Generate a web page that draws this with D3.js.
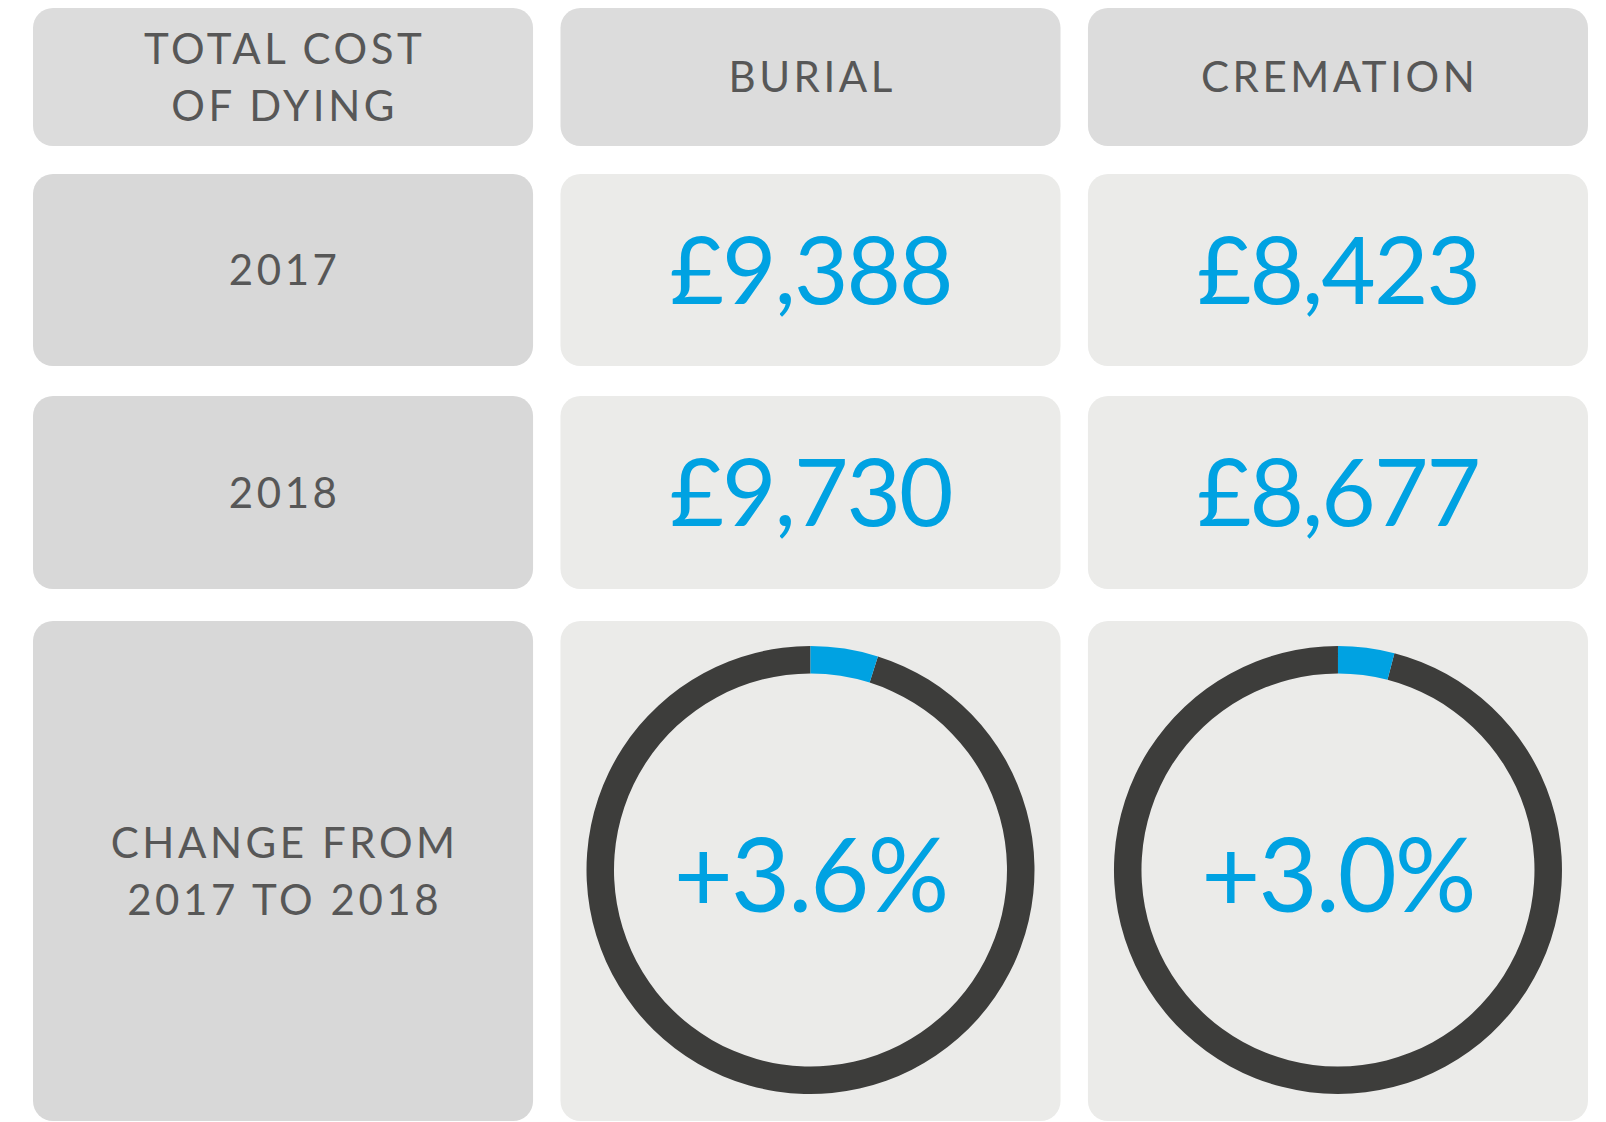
<!DOCTYPE html>
<html>
<head>
<meta charset="utf-8">
<script src="https://cdn.jsdelivr.net/npm/d3@7"></script>
<style>
  body { margin: 0; background: #fff; }
  svg { display: block; }
  text { font-family: Lato, "Open Sans", sans-serif; }
</style>
</head>
<body>
<div id="chart"></div>
<script>
// data
const columns = ['label', 'BURIAL', 'CREMATION'];
const headerLines = ['TOTAL COST', 'OF DYING'];
const years = ['2017', '2018'];
const burialCost = [9388, 9730];
const cremationCost = [8423, 8677];
const changeLines = ['CHANGE FROM', '2017 TO 2018'];
const changePct = [3.6, 3.0];

const width = 1606, height = 1122;
const blue = '#00a2e2', grey = '#575757', ring = '#3d3d3b';

const svg = d3.select('#chart').append('svg')
    .attr('width', width)
    .attr('height', height);

let x = d3.scaleBand()
    .domain(columns)
    .range([33, 1588])
    .paddingInner(0.052);

// rows have different heights so just list them
let rows = [
    { top: 8, h: 138 },
    { top: 174, h: 192 },
    { top: 396, h: 193 },
    { top: 621, h: 500 }
];

let money = d => '£' + d3.format(',')(d);
let pct = d => '+' + d3.format('.1f')(d) + '%';

function box(col, row, fill) {
    svg.append('rect')
        .attr('x', x(col))
        .attr('y', rows[row].top)
        .attr('width', x.bandwidth())
        .attr('height', rows[row].h)
        .attr('rx', 20)
        .attr('fill', fill);
}

function label(col, row, lines, size, gap) {
    let cy = rows[row].top + rows[row].h / 2;
    let t = svg.append('text')
        .attr('text-anchor', 'middle')
        .attr('fill', grey)
        .attr('font-size', size)
        .attr('letter-spacing', '0.085em');
    lines.forEach((l, i) => {
        t.append('tspan')
            .attr('x', x(col) + x.bandwidth() / 2 + size * 0.04)
            .attr('y', cy + (i - (lines.length - 1) / 2) * gap)
            .attr('dy', '0.36em')
            .text(l);
    });
}

function big(col, str, cy, size) {
    svg.append('text')
        .attr('x', x(col) + x.bandwidth() / 2)
        .attr('y', cy)
        .attr('dy', '0.36em')
        .attr('text-anchor', 'middle')
        .attr('fill', blue)
        .attr('font-size', size)
        .attr('letter-spacing', '-2px')
        .text(str);
}

// header row
columns.forEach(c => box(c, 0, '#dcdcdc'));
label('label', 0, headerLines, 42, 57);
label('BURIAL', 0, ['BURIAL'], 42, 57);
label('CREMATION', 0, ['CREMATION'], 42, 57);

// cost rows
years.forEach((yr, i) => {
    let r = i + 1;
    box('label', r, '#d8d8d8');
    box('BURIAL', r, '#ebebe9');
    box('CREMATION', r, '#ebebe9');
    label('label', r, [yr], 42, 57);
    let cy = rows[r].top + rows[r].h / 2;
    big('BURIAL', money(burialCost[i]), cy, 94);
    big('CREMATION', money(cremationCost[i]), cy, 94);
});

// change row with rings
box('label', 3, '#d8d8d8');
box('BURIAL', 3, '#ebebe9');
box('CREMATION', 3, '#ebebe9');
label('label', 3, changeLines, 42, 57);

let angle = d3.scaleLinear().domain([0, 74]).range([0, 2 * Math.PI]);
let arc = d3.arc().innerRadius(196.5).outerRadius(224);
let ringY = rows[3].top + rows[3].h / 2 - 1;

['BURIAL', 'CREMATION'].forEach((c, i) => {
    let g = svg.append('g')
        .attr('transform', `translate(${x(c) + x.bandwidth() / 2},${ringY})`);
    let a = angle(changePct[i]);
    g.append('path')
        .attr('d', arc({ startAngle: a, endAngle: 2 * Math.PI }))
        .attr('fill', ring);
    g.append('path')
        .attr('d', arc({ startAngle: 0, endAngle: a }))
        .attr('fill', blue);
    big(c, pct(changePct[i]), ringY + 5, 102);
});
</script>
</body>
</html>
